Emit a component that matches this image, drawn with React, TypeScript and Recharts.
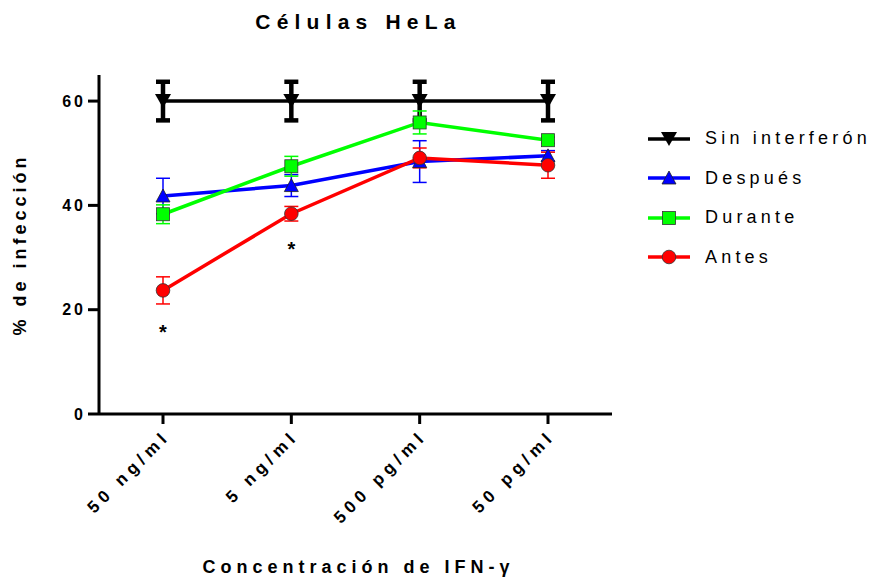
import React from 'react';
import { LineChart, Line, XAxis, YAxis, ErrorBar, LabelList, Label } from 'recharts';

const categories = ['50 ng/ml', '5 ng/ml', '500 pg/ml', '50 pg/ml'];
const sinInterferon = [60, 60, 60, 60];
const sinInterferonErr = [3.7, 3.7, 3.7, 3.7];
const despues = [41.8, 43.8, 48.4, 49.5];
const despuesErr = [3.4, 2.1, 4.0, 1.0];
const durante = [38.3, 47.5, 55.9, 52.5];
const duranteErr = [1.8, 1.9, 2.2, 0.6];
const antes = [23.7, 38.4, 49.1, 47.7];
const antesErr = [2.6, 1.4, 1.9, 2.5];
const significance = ['*', '*', '', ''];
const yTicks = [0, 20, 40, 60];

const W = 872;
const H = 578;
const TOP = 75;
const Y_AXIS_W = 99;
const X_AXIS_H = 164;
const RIGHT = 260;
const Y_MAX = 65;
const PLOT_H = H - TOP - X_AXIS_H;
const PX_PER_UNIT = PLOT_H / Y_MAX;

const FONT = '"Liberation Sans", Arial, Helvetica, sans-serif';

const data = categories.map((c, i) => ({
  cat: c,
  sin: sinInterferon[i],
  sinErr: sinInterferonErr[i],
  despues: despues[i],
  despuesErr: despuesErr[i],
  durante: durante[i],
  duranteErr: duranteErr[i],
  antes: antes[i],
  antesErr: antesErr[i],
  sig: significance[i],
}));

type Shape = 'down' | 'up' | 'square' | 'circle';

function Marker({ shape, cx, cy, fill }: { shape: Shape; cx: number; cy: number; fill: string }) {
  if (shape === 'down') {
    return <polygon points={`${cx - 8},${cy - 7} ${cx + 8},${cy - 7} ${cx},${cy + 7}`} fill={fill} />;
  }
  if (shape === 'up') {
    return (
      <polygon
        points={`${cx - 7},${cy + 6} ${cx + 7},${cy + 6} ${cx},${cy - 7}`}
        fill={fill}
        stroke="#222"
        strokeWidth={0.8}
      />
    );
  }
  if (shape === 'square') {
    return <rect x={cx - 6.5} y={cy - 6.5} width={13} height={13} fill={fill} stroke="#333" strokeWidth={0.8} />;
  }
  return <circle cx={cx} cy={cy} r={6.8} fill={fill} stroke="#333" strokeWidth={0.8} />;
}

const series: { key: string; err: string; name: string; color: string; shape: Shape }[] = [
  { key: 'sin', err: 'sinErr', name: 'Sin interferón', color: '#000000', shape: 'down' },
  { key: 'despues', err: 'despuesErr', name: 'Después', color: '#0000ff', shape: 'up' },
  { key: 'durante', err: 'duranteErr', name: 'Durante', color: '#00ff00', shape: 'square' },
  { key: 'antes', err: 'antesErr', name: 'Antes', color: '#ff0000', shape: 'circle' },
];

function XTick({ x, y, payload }: any) {
  return (
    <g transform={`translate(${x + 4},${y + 7})`}>
      <text
        transform="rotate(-45)"
        textAnchor="end"
        fontFamily={FONT}
        fontWeight="bold"
        fontSize={17}
        letterSpacing={5}
        fill="#000"
        dy={6}
      >
        {payload.value}
      </text>
    </g>
  );
}

// legend sits to the right of the plot, one row per series
function LegendBox() {
  return (
    <div style={{ position: 'absolute', left: 640, top: 119, fontFamily: FONT }}>
      {series.map((s) => (
        <div key={s.key} style={{ display: 'flex', alignItems: 'center', height: 39.5 }}>
          <svg width={56} height={20}>
            <line x1={8} y1={10} x2={50} y2={10} stroke={s.color} strokeWidth={3.5} />
            <Marker shape={s.shape} cx={29} cy={10} fill={s.color} />
          </svg>
          <span style={{ fontSize: 18, letterSpacing: 4.2, color: '#000', marginLeft: 9 }}>{s.name}</span>
        </div>
      ))}
    </div>
  );
}

export default function App() {
  return (
    <div style={{ position: 'absolute', left: 0, top: 0, width: W, height: H, background: '#fff', fontFamily: FONT }}>
      <div
        style={{
          position: 'absolute',
          left: Y_AXIS_W,
          width: W - Y_AXIS_W - RIGHT,
          top: 10,
          textAlign: 'center',
          fontSize: 21,
          fontWeight: 'bold',
          letterSpacing: 6.2,
          paddingLeft: 6,
          boxSizing: 'border-box',
        }}
      >
        Células HeLa
      </div>
      <LineChart width={W} height={H} data={data} margin={{ top: TOP, right: RIGHT, bottom: 0, left: 0 }}>
        <XAxis
          dataKey="cat"
          height={X_AXIS_H}
          padding={{ left: 64, right: 64 }}
          axisLine={{ stroke: '#000', strokeWidth: 3 }}
          tickLine={{ stroke: '#000', strokeWidth: 3 }}
          tickSize={10}
          tick={<XTick />}
          interval={0}
        >
          <Label
            content={({ viewBox }: any) => (
              <text
                x={viewBox.x + viewBox.width / 2 + 3}
                y={viewBox.y + 159}
                textAnchor="middle"
                fontFamily={FONT}
                fontWeight="bold"
                fontSize={18}
                letterSpacing={5}
                fill="#000"
              >
                Concentración de IFN-γ
              </text>
            )}
          />
        </XAxis>
        <YAxis
          width={Y_AXIS_W}
          domain={[0, Y_MAX]}
          ticks={yTicks}
          axisLine={{ stroke: '#000', strokeWidth: 3 }}
          tickLine={{ stroke: '#000', strokeWidth: 3 }}
          tickSize={11}
          tick={{ fill: '#000', fontSize: 16, fontWeight: 'bold', fontFamily: FONT, letterSpacing: 3 }}
        >
          <Label
            content={({ viewBox }: any) => {
              const cx = 20;
              const cy = viewBox.y + viewBox.height / 2;
              return (
                <text
                  x={cx}
                  y={cy}
                  transform={`rotate(-90 ${cx} ${cy})`}
                  textAnchor="middle"
                  dominantBaseline="central"
                  fontFamily={FONT}
                  fontWeight="bold"
                  fontSize={18}
                  letterSpacing={4}
                  fill="#000"
                >
                  % de infección
                </text>
              );
            }}
          />
        </YAxis>
        {series.map((s) => {
          const black = s.key === 'sin';
          return (
            <Line
              key={s.key}
              dataKey={s.key}
              name={s.name}
              type="linear"
              stroke={s.color}
              strokeWidth={3.5}
              isAnimationActive={false}
              dot={(p: any) => <Marker key={`${s.key}-${p.index}`} shape={s.shape} cx={p.cx} cy={p.cy} fill={s.color} />}
              activeDot={false}
            >
              <ErrorBar
                dataKey={s.err}
                direction="y"
                width={7}
                stroke={s.color}
                strokeWidth={black ? 4.5 : 1.5}
              />
              {s.key === 'antes' && (
                <LabelList
                  dataKey="sig"
                  content={(p: any) =>
                    p.value ? (
                      <text
                        key={`sig-${p.index}`}
                        x={p.x}
                        y={p.y + antesErr[p.index] * PX_PER_UNIT + 35}
                        textAnchor="middle"
                        fontFamily={FONT}
                        fontWeight="bold"
                        fontSize={20}
                        fill="#000"
                      >
                        {p.value}
                      </text>
                    ) : null
                  }
                />
              )}
            </Line>
          );
        })}
      </LineChart>
      <LegendBox />
    </div>
  );
}
